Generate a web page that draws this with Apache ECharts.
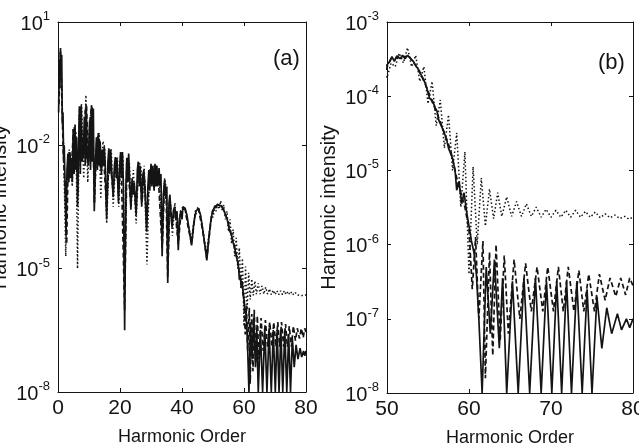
<!DOCTYPE html>
<html><head><meta charset="utf-8">
<script src="https://cdn.jsdelivr.net/npm/echarts@6/dist/echarts.min.js"></script>
<style>html,body{margin:0;padding:0;background:#fff}#c{width:639px;height:447px}</style>
</head><body><div id="c"></div>
<script>
// Harmonic order vs intensity, three curves (solid, dashed, dotted); panel (b) is a zoom of 50-80
const solid = [
[0.2,6.3e-2],[0.4,1.26],[0.6,0.25],[0.8,2.34],[1.0,0.5],[1.2,1.58],[1.4,3.2e-2],[1.6,6.3e-2],[1.8,5.0e-3],[2.0,1e-2],
[2.3,1e-3],[2.6,6.3e-5],[2.9,2.5e-3],[3.2,6.3e-3],[3.5,1.26e-3],[3.8,6.9e-3],[4.1,1.58e-3],[4.4,5.0e-3],[4.6,1.26e-3],[4.9,2.5e-2],
[5.2,2.0e-3],[5.5,3.2e-2],[5.8,2.5e-3],[6.0,1.58e-2],[6.3,3.2e-4],[6.6,6.3e-3],[6.9,8.9e-2],[7.2,2.0e-3],[7.5,9.5e-2],[7.8,4.0e-3],
[8.2,6.3e-3],[8.5,5.0e-2],[8.8,3.2e-3],[9.1,9.5e-2],[9.4,5.0e-3],[9.8,3.2e-3],[10.2,4.0e-2],[10.5,2.5e-3],[10.8,9.5e-2],[11.1,4.0e-3],
[11.4,7.9e-2],[11.7,2.5e-4],[12.1,4.0e-3],[12.4,1.58e-2],[12.7,2.5e-3],[13.0,2.0e-2],[13.3,3.2e-3],[13.6,1.26e-2],[14.0,2.0e-3],[14.3,7.9e-3],
[14.6,3.2e-3],[14.9,9.3e-3],[15.2,4.0e-3],[15.7,1.58e-4],[16.1,4.0e-3],[16.4,8.5e-3],[16.7,2.0e-3],[17.0,7.9e-3],[17.3,2.5e-3],[17.8,5.5e-4],
[18.2,3.2e-3],[18.5,5.2e-3],[18.8,1.58e-3],[19.0,5.0e-3],[19.5,4.0e-4],[19.9,3.2e-3],[20.2,6.9e-3],[20.5,1.58e-3],[20.8,6.9e-3],[21.1,1e-3],
[21.5,3.2e-7],[21.9,1e-3],[22.2,5.0e-3],[22.5,1.26e-3],[22.8,6.3e-3],[23.1,1.58e-3],[23.5,2.7e-4],[23.9,1.58e-3],[24.3,6.3e-4],[24.6,1.26e-3],
[25.2,2.0e-4],[25.6,2.5e-3],[25.9,4.0e-3],[26.2,1e-3],[26.5,3.2e-3],[27.0,3.2e-4],[27.4,2.0e-3],[27.7,2.5e-3],[28.0,1e-3],[28.6,7.9e-5],
[29.0,1e-3],[29.3,2.5e-3],[29.6,7.9e-4],[30.0,3.55e-3],[30.3,1e-3],[30.6,3.2e-3],[31.0,7.9e-4],[31.3,3.55e-3],[31.6,1e-3],[31.9,3.2e-3],
[32.2,1e-3],[32.6,2.8e-3],[32.9,1e-3],[33.2,2.0e-3],[33.6,2.0e-5],[34.0,6.3e-4],[34.4,1.45e-3],[34.8,5.0e-4],[35.1,1e-3],[35.4,4.5e-6],
[35.8,4.0e-4],[36.1,6.3e-4],[36.4,2.5e-4],[36.8,1e-4],[37.2,2.5e-4],[37.6,3.2e-4],[38.0,1.58e-4],[38.4,2.5e-4],[38.8,2.8e-5],[39.2,1.58e-4],
[39.6,2.5e-4],[40.0,1.58e-4],[40.3,3.2e-4],[41.0,2.95e-4],[41.6,2.0e-4],[42.2,1e-4],[43.1,3.7e-5],[43.8,1.26e-4],[44.5,2.5e-4],[45.3,2.95e-4],
[46.0,2.0e-4],[46.8,7.9e-5],[47.5,3.2e-5],[48.0,1.58e-5],[48.6,5.0e-5],[49.2,1.26e-4],[49.8,2.5e-4],
[50.2,2.8e-4],[50.6,3.4e-4],[50.9,2.95e-4],[51.2,3.5e-4],[51.6,3.2e-4],[51.9,3.55e-4],[52.2,3.2e-4],[52.5,3.55e-4],[52.8,3.3e-4],[53.2,2.95e-4],
[53.6,2.5e-4],[53.9,2.24e-4],[54.2,1.9e-4],[54.5,1.66e-4],[54.8,1.35e-4],[55.2,9.3e-5],[55.5,8.9e-5],[55.9,6.9e-5],[56.1,6.3e-5],[56.3,4.8e-5],
[56.5,5.0e-5],[56.7,3.8e-5],[57.1,2.95e-5],[57.3,2.5e-5],[57.5,2.0e-5],[57.7,2.1e-5],[58.0,1.45e-5],[58.3,1e-5],[58.5,5.4e-6],[58.8,7.1e-6],
[59.1,3.55e-6],[59.4,5.0e-6],[59.7,2.8e-6],[60.0,1.78e-6],[60.3,1.12e-6],[60.6,7.9e-7],[60.9,4.0e-7],[61.2,1e-7],[61.6,1e-8],[62.1,5.0e-7],
[62.6,6.3e-8],[63.1,6.3e-7],[63.7,4.0e-8],[64.1,3.55e-7],[64.6,1e-8],[65.3,3.2e-7],[66.0,1e-8],[66.7,3.55e-7],[67.4,1e-8],[68.1,3.55e-7],
[68.8,1e-8],[69.45,3.2e-7],[70.1,1e-8],[70.7,3.2e-7],[71.3,1e-8],[71.9,3.2e-7],[72.5,1e-8],[73.15,3.2e-7],[73.8,1e-8],[74.4,2.5e-7],
[75.0,1e-8],[75.6,2.0e-7],[76.2,4.0e-8],[76.8,1.41e-7],[77.4,6.3e-8],[78.1,1.17e-7],[78.6,7.1e-8],[79.2,1e-7],[79.6,7.6e-8],[80.0,1e-7]
];
const dashed = [
[0.3,0.1],[0.8,2.0],[1.3,0.1],[1.7,6.3e-3],[2.4,5.0e-4],[2.8,4.0e-5],[3.3,5.0e-3],[3.8,6.3e-3],[4.3,2.5e-3],[5.0,2.5e-2],
[5.6,2.5e-2],[6.0,6.3e-3],[6.4,6.3e-4],[7.0,7.9e-2],[7.5,7.9e-2],[8.0,1e-2],[8.3,5.0e-3],[8.8,7.9e-2],[9.2,8.9e-2],[9.8,4.0e-3],
[10.4,5.0e-2],[10.9,8.9e-2],[11.3,2.5e-2],[11.7,4.0e-4],[12.5,1.26e-2],[13.2,1.78e-2],[13.9,2.5e-3],[14.6,7.9e-3],[15.1,7.9e-3],[15.7,2.5e-4],
[16.5,6.3e-3],[17.1,6.3e-3],[17.8,7.9e-4],[18.5,4.5e-3],[19.0,4.0e-3],[19.5,6.3e-4],[20.3,6.3e-3],[20.9,6.3e-3],[21.5,1e-6],[22.2,4.5e-3],
[22.8,5.0e-3],[23.5,4.0e-4],[24.2,1.26e-3],[24.6,1e-3],[25.2,2.5e-4],[26.0,3.2e-3],[26.5,2.5e-3],[27.0,4.0e-4],[27.7,2.0e-3],[28.1,1e-3],
[28.6,1e-4],[29.4,1.58e-3],[30.2,3.2e-3],[31.0,1.26e-3],[31.6,3.2e-3],[32.3,2.0e-3],[32.9,2.0e-3],[33.6,3.2e-5],[34.4,1.26e-3],[34.9,5.0e-4],
[35.4,6.3e-6],[36.1,5.0e-4],[36.8,1.26e-4],[37.7,2.8e-4],[38.8,4.0e-5],[39.6,2.0e-4],[40.3,2.8e-4],[41.0,2.8e-4],[42.0,1e-4],[43.1,4.0e-5],
[44.2,2.0e-4],[45.3,2.8e-4],[46.5,1e-4],[47.5,3.2e-5],[48.0,1.78e-5],[48.8,6.3e-5],[49.5,1.78e-4],
[50.1,2.6e-4],[50.5,3.2e-4],[51.0,3.2e-4],[51.5,3.55e-4],[52.0,3.4e-4],[52.6,3.5e-4],[53.1,3.0e-4],[53.7,2.4e-4],[54.3,1.78e-4],[54.9,1.26e-4],
[55.4,8.9e-5],[56.0,6.3e-5],[56.6,4.2e-5],[57.2,2.8e-5],[57.8,1.78e-5],[58.3,1e-5],[58.7,6.3e-6],[59.0,5.0e-6],[59.5,3.2e-6],[60.0,1.58e-6],
[60.4,2.5e-7],[60.8,1.26e-6],[61.2,1e-7],[61.7,1.12e-6],[62.0,1.58e-8],[62.5,7.9e-7],[62.9,3.2e-8],[63.3,1e-6],[63.8,5.0e-8],[64.3,7.1e-7],
[64.8,6.3e-8],[65.5,6.3e-7],[66.2,1e-7],[66.9,5.6e-7],[67.6,1.26e-7],[68.3,5.0e-7],[69.0,1.26e-7],[69.6,5.0e-7],[70.3,1.26e-7],[70.9,5.0e-7],
[71.5,1.26e-7],[72.1,5.0e-7],[72.8,1.26e-7],[73.4,4.5e-7],[74.0,1.26e-7],[74.6,4.0e-7],[75.3,1.26e-7],[75.9,4.0e-7],[76.6,1.78e-7],[77.2,3.55e-7],
[77.9,2.0e-7],[78.5,3.55e-7],[79.1,2.1e-7],[79.6,3.55e-7],[80.0,2.8e-7]
];
const dotted = [
[0.3,0.158],[0.8,1.78],[1.3,0.126],[1.8,1e-2],[2.5,2.0e-5],[3.0,2.5e-3],[3.6,7.9e-3],[4.2,3.2e-3],[4.6,1e-3],[5.2,2.8e-2],
[5.8,2.0e-2],[6.3,1e-5],[6.9,6.3e-2],[7.6,0.1],[8.3,1.58e-3],[9.0,0.166],[9.6,1.26e-3],[10.2,3.2e-2],[10.8,7.9e-2],[11.3,1.26e-2],
[11.8,4.0e-4],[12.5,1.41e-2],[13.3,2.0e-2],[13.8,5.0e-4],[14.5,1.26e-2],[15.1,8.9e-3],[15.7,1.26e-4],[16.5,5.0e-3],[17.2,7.9e-3],[17.8,3.2e-4],
[18.6,4.0e-3],[19.2,5.0e-3],[19.6,3.2e-4],[20.4,6.3e-3],[21.0,5.0e-3],[21.5,3.2e-6],[22.3,5.0e-3],[23.0,4.0e-3],[23.6,3.2e-4],[24.3,2.5e-3],
[25.2,1.26e-4],[26.0,4.0e-3],[26.7,3.2e-3],[27.3,5.0e-4],[27.8,3.2e-3],[28.7,1.26e-5],[29.5,2.5e-3],[30.3,2.5e-3],[31.1,3.2e-3],[31.8,2.0e-3],
[32.6,2.5e-3],[33.6,3.2e-5],[34.4,1.58e-3],[35.0,7.9e-4],[35.4,1.26e-5],[36.2,5.0e-4],[36.9,6.3e-5],[37.7,4.0e-4],[38.6,6.3e-5],[39.5,2.5e-4],
[40.3,3.2e-4],[41.1,2.5e-4],[42.2,1e-4],[43.0,5.0e-5],[44.3,2.5e-4],[45.3,3.2e-4],[46.4,1.26e-4],[47.4,4.0e-5],[48.0,2.5e-5],[48.8,7.9e-5],
[49.5,2.0e-4],
[50.0,1.78e-4],[50.5,2.8e-4],[51.0,2.5e-4],[51.5,3.8e-4],[52.0,2.8e-4],[52.5,4.5e-4],[53.0,2.5e-4],[53.5,3.55e-4],[54.0,1.58e-4],[54.5,2.5e-4],
[55.0,7.9e-5],[55.5,1.58e-4],[56.0,4.0e-5],[56.5,8.9e-5],[57.0,2.0e-5],[57.5,5.6e-5],[58.0,1e-5],[58.5,3.2e-5],[59.0,3.2e-6],[59.5,1.78e-5],
[60.0,4.0e-7],[60.5,1.12e-5],[61.0,1e-6],[61.5,7.9e-6],[62.0,1.78e-6],[62.5,5.6e-6],[63.0,2.24e-6],[63.5,5.0e-6],[64.0,2.4e-6],[64.6,4.4e-6],
[65.2,2.4e-6],[65.8,3.8e-6],[66.4,2.4e-6],[67.0,3.55e-6],[67.6,2.4e-6],[68.2,3.2e-6],[68.8,2.34e-6],[69.4,3.0e-6],[70.0,2.34e-6],[70.6,2.9e-6],
[71.2,2.34e-6],[71.8,2.9e-6],[72.4,2.34e-6],[73.0,2.9e-6],[73.6,2.34e-6],[74.2,2.8e-6],[74.8,2.34e-6],[75.4,2.75e-6],[76.0,2.3e-6],[76.6,2.6e-6],
[77.2,2.3e-6],[77.8,2.5e-6],[78.4,2.24e-6],[79.0,2.4e-6],[79.5,2.2e-6],[80.0,2.34e-6]
];
const yTicksA = [1e-8, 1e-5, 1e-2, 1e1];
const yTicksB = [1e-8, 1e-7, 1e-6, 1e-5, 1e-4, 1e-3];
const xRangeA = [0, 80, 20];
const xRangeB = [50, 80, 10];
const panelLabels = ['(a)', '(b)'];
const xName = 'Harmonic Order';
const yName = 'Harmonic intensity';

const FONT = "'Liberation Sans', Arial, Helvetica, sans-serif";
const INK = '#141414';
const chart = echarts.init(document.getElementById('c'), null, {renderer: 'canvas'});

function expLabel(v) {
  const e = Math.round(Math.log10(v));
  return '{b|10}{s|' + e + '}';
}
const richY = {
  b: {fontSize: 20, fontFamily: FONT, color: INK, lineHeight: 24, verticalAlign: 'bottom'},
  s: {fontSize: 13, fontFamily: FONT, color: INK, lineHeight: 13, padding: [0, 0, 11, 0], verticalAlign: 'bottom'}
};
function xAx(gi, r, top) {
  return {
    type: 'value', gridIndex: gi, min: r[0], max: r[1], interval: r[2], position: top ? 'top' : 'bottom',
    axisLine: {show: true, onZero: false, lineStyle: {color: INK, width: 1}},
    axisTick: {show: true, inside: true, length: 4, lineStyle: {color: INK}},
    axisLabel: {show: !top, fontSize: 21, fontFamily: FONT, color: INK, margin: 6},
    splitLine: {show: false},
    name: top ? '' : xName, nameLocation: 'middle', nameGap: 36,
    nameTextStyle: {fontSize: 18, fontFamily: FONT, color: INK}
  };
}
function yAx(gi, ticks, right) {
  return {
    type: 'log', logBase: 10, gridIndex: gi, min: ticks[0], max: ticks[ticks.length - 1],
    position: right ? 'right' : 'left',
    axisLine: {show: true, onZero: false, lineStyle: {color: INK, width: 1}},
    axisTick: {show: true, inside: true, length: 4, lineStyle: {color: INK}, customValues: ticks},
    axisLabel: {show: !right, customValues: ticks, formatter: expLabel, rich: richY, margin: 8},
    splitLine: {show: false}, minorTick: {show: false},
    name: right ? '' : yName, nameLocation: 'middle', nameGap: 48, nameRotate: 90,
    nameTextStyle: {fontSize: 20, fontFamily: FONT, color: INK}
  };
}
function series(xi, yi) {
  const base = {type: 'line', xAxisIndex: xi, yAxisIndex: yi, showSymbol: false, symbol: 'none',
    animation: false, clip: true, silent: true};
  return [
    Object.assign({}, base, {name: 'dotted', data: dotted, lineStyle: {color: INK, width: 1.5, type: [1.5, 2.3]}}),
    Object.assign({}, base, {name: 'dashed', data: dashed, lineStyle: {color: INK, width: 1.7, type: [5, 3]}}),
    Object.assign({}, base, {name: 'solid', data: solid, lineStyle: {color: INK, width: 1.7}})
  ];
}

chart.setOption({
  backgroundColor: '#fff',
  animation: false,
  grid: [
    {left: 58, top: 22, width: 248, height: 370, outerBoundsMode: 'none', containLabel: false},
    {left: 387, top: 22, width: 246, height: 371, outerBoundsMode: 'none', containLabel: false}
  ],
  xAxis: [xAx(0, xRangeA, false), xAx(0, xRangeA, true), xAx(1, xRangeB, false), xAx(1, xRangeB, true)],
  yAxis: [yAx(0, yTicksA, false), yAx(0, yTicksA, true), yAx(1, yTicksB, false), yAx(1, yTicksB, true)],
  series: [].concat(series(0, 0), series(2, 2)),
  graphic: [
    {type: 'text', left: 273, top: 48, style: {text: panelLabels[0], fontSize: 22, fontFamily: FONT, fill: INK}},
    {type: 'text', left: 598, top: 52, style: {text: panelLabels[1], fontSize: 22, fontFamily: FONT, fill: INK}}
  ]
});
</script></body></html>
